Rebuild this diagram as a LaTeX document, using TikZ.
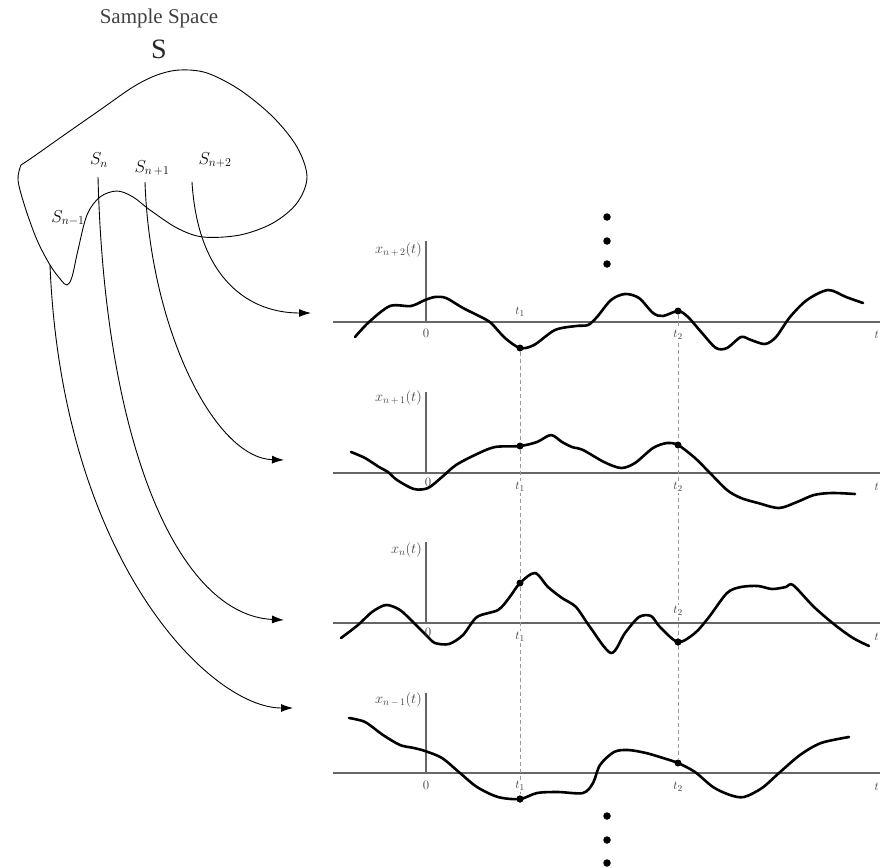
\documentclass[tikz,border=0pt]{standalone}
\usepackage{fontspec}
\newfontfamily\timesfont{Liberation Serif}
\usetikzlibrary{arrows.meta}

\begin{document}
\begin{tikzpicture}[x=1pt,y=-1pt,
  axis/.style={draw=black!60,line width=1.8pt},
  signal/.style={line width=2.6pt,line join=round,line cap=round},
  guide/.style={draw=black!40,line width=0.6pt,dash pattern=on 4pt off 3pt},
  mapping/.style={line width=0.9pt,-{Latex[length=12pt,width=8pt]}},
  sample/.style={circle,fill=black,inner sep=0pt,minimum size=7pt},
  ellip/.style={circle,fill=black,inner sep=0pt,minimum size=7.5pt},
  lab/.style={text=black!75,font=\fontsize{13}{15}\selectfont,inner sep=1pt},
  tlab/.style={lab,fill=white},
  ylab/.style={lab,font=\fontsize{14}{16}\selectfont},
  slab/.style={font=\fontsize{17}{19}\selectfont,inner sep=1pt},
  every node/.style={text centered}]

\useasboundingbox (0,0) rectangle (880,867);

%%% sample space
\node[text=black!75,font=\timesfont\fontsize{21}{24}\selectfont] (title) at (159,18) {Sample Space};
\node[text=black!85,font=\timesfont\fontsize{28}{30}\selectfont] (space) at (159,49) {S};

\draw[line width=0.9pt] plot[smooth,tension=0.55] coordinates {(21,165) (33,157) (67,133) (100,110) (133,87) (157,75) (180,70) (207,73) (240,90) (273,117) (297,147) (307,177) (297,203) (273,223) (240,235) (203,237) (177,228) (150,210) (133,197) (117,191) (100,197) (87,215) (78,250) (72,277) (67,285) (61,280) (50,265) (37,240) (25,207) (18,180) (21,165)};

\node[slab] (sm) at (68,218) {$S_{n-1}$};
\node[slab] (sn) at (99,160) {$S_{n}$};
\node[slab] (sp) at (152,168) {$S_{n\,+1}$};
\node[slab] (spp) at (215,160) {$S_{n+2}$};

\coordinate (sm0) at (50,265);
\coordinate (sn0) at (98,177);
\coordinate (sp0) at (145,182);
\coordinate (spp0) at (192,182);

\coordinate (ea) at (311,313);
\coordinate (eb) at (284,460);
\coordinate (ec) at (284,620);
\coordinate (ed) at (293,708);

\draw[mapping] (spp0) .. controls (198,280) and (250,313) .. (ea);
\draw[mapping] (sp0) .. controls (150,330) and (215,458) .. (eb);
\draw[mapping] (sn0) .. controls (105,450) and (180,615) .. (ec);
\draw[mapping] (sm0) .. controls (62,560) and (210,708) .. (ed);

%%% x_{n+2}
\draw[axis] (333,322) -- (880,322);
\draw[axis] (426,322) -- (426,241);
\node[ylab,left] (xa) at (423,250) {$x_{n\,+\,2}(t)$};
\node[sample] (pa1) at (520,348) {};
\node[sample] (pa2) at (678,311) {};
\draw[signal] plot[smooth] coordinates {(355,337) (369,322) (390,306) (411,306) (425,300) (435,297) (446,298) (463,308) (481,317) (491,323) (505,338) (520,348) (534,345) (555,330) (576,326) (588,325) (597,317) (611,300) (625,294) (639,298) (653,313) (663,316) (678,311) (688,317) (702,333) (716,348) (727,348) (741,337) (751,340) (765,344) (776,337) (790,317) (807,300) (828,290) (846,297) (863,303)};

%%% x_{n+1}
\draw[axis] (333,473) -- (880,473);
\draw[axis] (426,473) -- (426,392);
\node[ylab,left] (xb) at (423,398) {$x_{n\,+\,1}(t)$};
\node[sample] (pb1) at (520,446) {};
\node[sample] (pb2) at (678,445) {};
\draw[signal] plot[smooth] coordinates {(351,452) (365,458) (379,467) (388,472) (397,480) (414,489) (428,488) (442,477) (456,465) (477,454) (495,447) (520,446) (537,442) (551,435) (562,442) (572,447) (583,450) (604,462) (621,468) (635,463) (653,448) (667,443) (678,445) (695,458) (709,472) (727,490) (741,498) (758,503) (779,508) (797,502) (814,495) (832,493) (855,494)};

%%% x_n
\draw[axis] (333,623) -- (880,623);
\draw[axis] (426,623) -- (426,542);
\node[ylab,left] (xc) at (423,550) {$x_{n}(t)$};
\node[sample] (pc1) at (520,583) {};
\node[sample] (pc2) at (678,642) {};
\draw[signal] plot[smooth] coordinates {(341,638) (358,625) (372,612) (386,605) (400,610) (414,623) (427,636) (435,643) (449,644) (463,635) (477,617) (498,610) (509,598) (520,583) (535,573) (548,587) (562,598) (576,607) (590,627) (611,653) (625,633) (639,617) (651,616) (660,627) (678,642) (695,633) (709,617) (727,593) (741,587) (758,586) (772,589) (786,587) (793,585) (814,607) (835,625) (853,638) (869,646)};

%%% x_{n-1}
\draw[axis] (333,773) -- (880,773);
\draw[axis] (426,773) -- (426,693);
\node[ylab,left] (xd) at (423,700) {$x_{n\,-\,1}(t)$};
\node[sample] (pd1) at (520,799) {};
\node[sample] (pd2) at (678,763) {};
\draw[signal] plot[smooth] coordinates {(349,718) (365,722) (383,735) (400,745) (414,748) (425,751) (442,758) (460,773) (477,787) (498,797) (520,799) (537,793) (558,792) (583,793) (593,783) (600,765) (614,752) (628,750) (646,753) (663,758) (678,763) (695,772) (713,787) (730,795) (744,797) (762,788) (779,773) (800,755) (821,743) (849,737)};

%%% sample times
\draw[guide] (pa1) -- (pb1);
\draw[guide] (pb1) -- (pc1);
\draw[guide] (pc1) -- (pd1);
\draw[guide] (pa2) -- (pb2);
\draw[guide] (pb2) -- (pc2);
\draw[guide] (pc2) -- (pd2);

\node[lab] (za) at (426,333) {0};
\node[lab] (t1a) at (520,312) {$t_1$};
\node[tlab] (t2a) at (678,335) {$t_2$};
\node[lab,anchor=east] (ta) at (880,335) {$t$};

\node[lab] (zb) at (428,482) {0};
\node[tlab] (t1b) at (520,487) {$t_1$};
\node[tlab] (t2b) at (678,487) {$t_2$};
\node[lab,anchor=east] (tb) at (880,487) {$t$};

\node[lab] (zc) at (428,632) {0};
\node[tlab] (t1c) at (520,637) {$t_1$};
\node[tlab] (t2c) at (678,611) {$t_2$};
\node[lab,anchor=east] (tc) at (880,637) {$t$};

\node[lab] (zd) at (426,785) {0};
\node[tlab] (t1d) at (520,786) {$t_1$};
\node[tlab] (t2d) at (678,787) {$t_2$};
\node[lab,anchor=east] (td) at (880,787) {$t$};

% redraw the dots over the labels
\node[sample] at (pc2) {};
\node[sample] at (pd1) {};

%%% more realizations
\node[ellip] (va) at (607,217) {};
\node[ellip] (vb) at (607,241) {};
\node[ellip] (vc) at (607,264) {};
\node[ellip] (vd) at (607,816) {};
\node[ellip] (ve) at (607,840) {};
\node[ellip] (vf) at (607,863) {};

\end{tikzpicture}
\end{document}
